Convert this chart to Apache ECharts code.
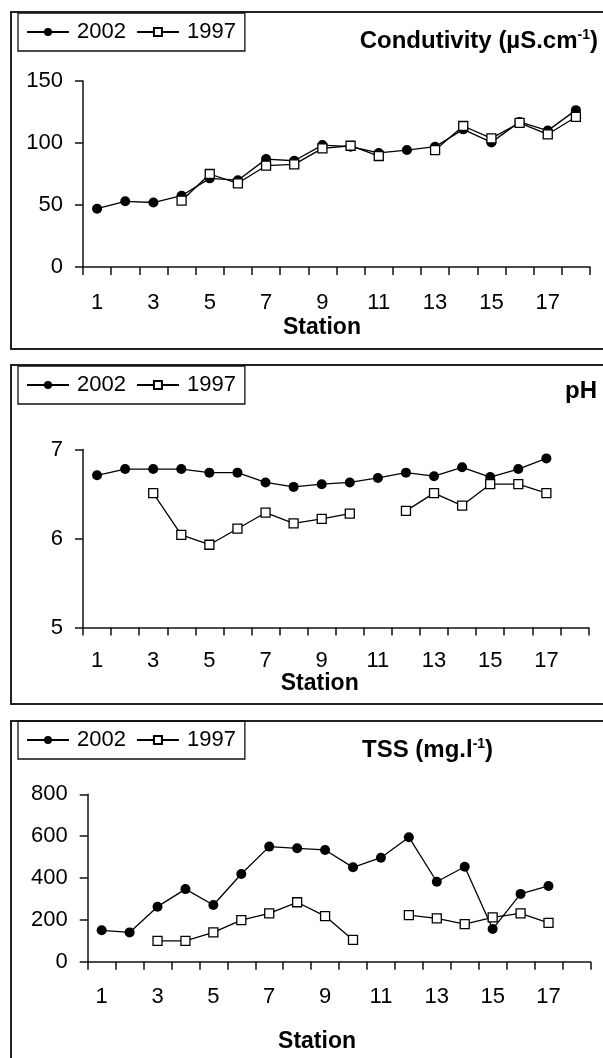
<!DOCTYPE html>
<html>
<head>
<meta charset="utf-8">
<script src="https://cdn.jsdelivr.net/npm/echarts@6/dist/echarts.min.js"></script>
<style>
html,body{margin:0;padding:0;background:#fff;}
#c{width:603px;height:1058px;}
</style>
</head>
<body>
<div id="c"></div>
<script>
const stations = ['1','2','3','4','5','6','7','8','9','10','11','12','13','14','15','16','17','18'];
const seriesNames = ['2002','1997'];

const cond2002 = [47,53,52,57.5,71.5,70,87,85.7,98.3,97,92,94.3,97,111,100.5,117,110,126.5];
const cond1997 = [null,null,null,53.5,75,67.5,81.7,82.8,95.7,97.8,89.5,null,94.3,113.7,103.7,116.3,107,121];

const ph2002 = [6.71,6.78,6.78,6.78,6.74,6.74,6.63,6.58,6.61,6.63,6.68,6.74,6.70,6.80,6.69,6.78,6.90,null];
const ph1997 = [null,null,6.51,6.04,5.93,6.11,6.29,6.17,6.22,6.28,null,6.31,6.51,6.37,6.61,6.61,6.51,null];

const tss2002 = [150,140,263,347,271,419,550,542,534,451,497,595,382,454,156,324,362,null];
const tss1997 = [null,null,100,100,140,199,231,284,218,104,null,223,207,180,212,231,186,null];

const yRanges = [[0,150,50],[5,7,1],[0,800,200]];
const panelTitles = [
  ['Condutivity (\u00b5S.cm','-1',')'],
  ['pH','',''],
  ['TSS (mg.l','-1',')']
];
const xLabel = 'Station';

const FONT = '"Liberation Sans", Arial, sans-serif';
const grids = [
  {left:83, top:81, width:507, height:186},
  {left:83, top:449.5, width:505.5, height:178},
  {left:87.7, top:794.3, width:502.7, height:167.4}
];
const labelMargins = [25,22,24];
const nameGaps = [49,43.5,68];
const namePads = [29,32,44];
const legendTops = [13,366,721];

const chart = echarts.init(document.getElementById('c'), null, {renderer:'canvas'});

const xAxes = grids.map((g,i)=>({
  type:'category', gridIndex:i, data:stations, boundaryGap:true,
  axisLine:{show:true, lineStyle:{color:'#111', width:1.5}},
  axisTick:{show:true, interval:0, length:8, inside:false, lineStyle:{color:'#111', width:1.5}},
  axisLabel:{interval:1, margin:labelMargins[i], color:'#000', fontSize:22, fontFamily:FONT},
  splitLine:{show:false},
  name:xLabel, nameLocation:'middle', nameGap:nameGaps[i],
  nameTextStyle:{color:'#000', fontSize:23, fontWeight:'bold', fontFamily:FONT, padding:[0,namePads[i],0,0]}
}));
const yAxes = yRanges.map((r,i)=>({
  type:'value', gridIndex:i, min:r[0], max:r[1], interval:r[2],
  axisLine:{show:true, lineStyle:{color:'#111', width:1.5}},
  axisTick:{show:true, length:8, inside:false, lineStyle:{color:'#111', width:1.5}},
  axisLabel:{margin:20, color:'#000', fontSize:22, fontFamily:FONT},
  splitLine:{show:false}
}));

function mkSeries(name, data, idx){
  const is02 = name === '2002';
  return {
    name:name, type:'line', xAxisIndex:idx, yAxisIndex:idx, data:data,
    symbol: is02 ? 'circle' : 'rect',
    symbolSize: is02 ? 10 : 9,
    connectNulls:false,
    lineStyle:{color:'#000', width:1.3},
    itemStyle: is02 ? {color:'#000', borderColor:'#000', borderWidth:0}
                    : {color:'#fff', borderColor:'#000', borderWidth:1.3},
    emphasis:{disabled:true},
    animation:false,
    z: is02 ? 2 : 3
  };
}
const series = [
  mkSeries('2002', cond2002, 0), mkSeries('1997', cond1997, 0),
  mkSeries('2002', ph2002, 1), mkSeries('1997', ph1997, 1),
  mkSeries('2002', tss2002, 2), mkSeries('1997', tss1997, 2)
];

const legends = legendTops.map(t=>({
  data:seriesNames, left:18, top:t, orient:'horizontal',
  itemWidth:42, itemHeight:10, itemGap:10,
  padding:[8,9,8,8], borderColor:'#111', borderWidth:1.3,
  textStyle:{color:'#000', fontSize:22, fontFamily:FONT, padding:[0,0,0,3]},
  selectedMode:false
}));

const richStyle = {
  a:{fontSize:24, fontWeight:'bold', fontFamily:FONT, color:'#000', lineHeight:26},
  s:{fontSize:14, fontWeight:'bold', fontFamily:FONT, color:'#000', lineHeight:18, verticalAlign:'top'}
};
function titleText(t){
  let s = '{a|' + t[0] + '}';
  if (t[1]) s += '{s|' + t[1] + '}';
  if (t[2]) s += '{a|' + t[2] + '}';
  return s;
}
const titles = [
  {text:titleText(panelTitles[0]), right:5, top:28, padding:0, textStyle:{rich:richStyle}},
  {text:titleText(panelTitles[1]), right:6, top:378, padding:0, textStyle:{rich:richStyle}},
  {text:titleText(panelTitles[2]), left:362, top:737, padding:0, textStyle:{rich:richStyle}}
];

const panelRects = [[11,12,337],[11,365,339],[11,721,360]];
const graphic = panelRects.map(p=>({
  type:'rect', silent:true, z:-1,
  shape:{x:p[0], y:p[1], width:620, height:p[2]},
  style:{fill:'none', stroke:'#222', lineWidth:2}
}));

chart.setOption({
  backgroundColor:'#fff',
  animation:false,
  title:titles,
  legend:legends,
  grid:grids,
  xAxis:xAxes,
  yAxis:yAxes,
  series:series,
  graphic:graphic
});
</script>
</body>
</html>
